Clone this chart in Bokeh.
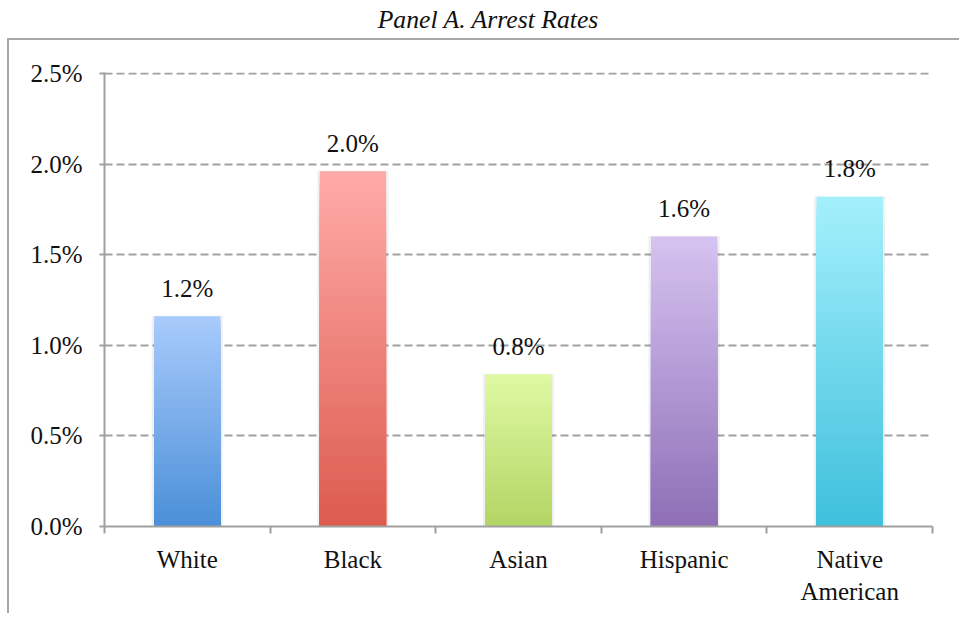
from bokeh.plotting import figure
from bokeh.models import ColumnDataSource, FixedTicker, NumeralTickFormatter, Div, Range1d
from bokeh.layouts import column
from bokeh.embed import file_html
from bokeh.resources import INLINE
from bokeh.core.properties import value

# ---- data ----
categories = ["White", "Black", "Asian", "Hispanic", "Native\nAmerican"]
arrest_rates = [0.0116, 0.0196, 0.0084, 0.0160, 0.0182]
bar_labels = ["1.2%", "2.0%", "0.8%", "1.6%", "1.8%"]
y_ticks = [0.0, 0.005, 0.010, 0.015, 0.020, 0.025]
top_colors = ["#A9CBFC", "#FFABA8", "#DFF9A3", "#D6C3F0", "#A4F0FC"]
bottom_colors = ["#4A8FD8", "#DC5B4E", "#B3D564", "#8E6FB7", "#3EC0DC"]

FONT = "Liberation Serif"
GREY = "#a0a0a0"
BAR_W = 0.4
N_STEPS = 60

centers = [i + 0.5 for i in range(len(categories))]


def hex2rgb(h):
    return [int(h[i:i + 2], 16) for i in (1, 3, 5)]


# gradient bars: stacked slices, tallest (top colour) drawn first
g = dict(left=[], right=[], top=[], bottom=[], color=[])
sh = dict(left=[], right=[], top=[], bottom=[])
for c, v, tc, bc in zip(centers, arrest_rates, top_colors, bottom_colors):
    t, b = hex2rgb(tc), hex2rgb(bc)
    for k in range(N_STEPS, 0, -1):
        f = (k - 0.5) / N_STEPS
        rgb = tuple(round(b[j] + (t[j] - b[j]) * f) for j in range(3))
        g["left"].append(c - BAR_W / 2)
        g["right"].append(c + BAR_W / 2)
        g["top"].append(v * k / N_STEPS)
        g["bottom"].append(0)
        g["color"].append("#%02x%02x%02x" % rgb)
    sh["left"].append(c - BAR_W / 2 - 0.015)
    sh["right"].append(c + BAR_W / 2 + 0.015)
    sh["top"].append(v + 0.00003)
    sh["bottom"].append(0)

p = figure(width=956, height=575, output_backend="svg", toolbar_location=None,
           x_range=Range1d(0, 5), y_range=Range1d(0, 0.025055),
           min_border_left=95, min_border_right=33, min_border_top=32, min_border_bottom=89)
p.styles = {"border-top": "2px solid #a6a6a6", "border-left": "2px solid #a6a6a6",
            "margin-left": "7px"}
p.outline_line_color = None
p.background_fill_color = "white"
p.border_fill_color = "white"

# shadow
p.quad(left="left", right="right", top="top", bottom="bottom", source=ColumnDataSource(sh),
       fill_color="#000000", fill_alpha=0.06, line_color=None)
p.quad(left="left", right="right", top="top", bottom="bottom", source=ColumnDataSource(g),
       fill_color="color", line_color=None)

p.text(x=centers, y=arrest_rates, text=bar_labels, text_align="center",
       text_baseline="alphabetic", y_offset=-28, text_font=value(FONT),
       text_font_size="25px", text_color="#111111")

# grid
p.xgrid.visible = False
p.ygrid.ticker = FixedTicker(ticks=y_ticks)
p.ygrid.grid_line_color = GREY
p.ygrid.grid_line_width = 2
p.ygrid.grid_line_dash = "8 4"

# y axis
p.yaxis.ticker = FixedTicker(ticks=y_ticks)
p.yaxis.formatter = NumeralTickFormatter(format="0.0%")
p.yaxis.axis_line_color = GREY
p.yaxis.axis_line_width = 2
p.yaxis.major_tick_line_color = GREY
p.yaxis.major_tick_line_width = 2
p.yaxis.major_tick_out = 5
p.yaxis.major_tick_in = 0
p.yaxis.minor_tick_line_color = None
p.yaxis.major_label_standoff = 17
p.yaxis.major_label_text_font = FONT
p.yaxis.major_label_text_font_size = "25px"
p.yaxis.major_label_text_color = "#111111"

# x axis: labels at centres, ticks at category boundaries
p.xaxis.ticker = FixedTicker(ticks=centers, minor_ticks=list(range(len(categories) + 1)))
p.xaxis.major_label_overrides = {c: lab for c, lab in zip(centers, categories)}
p.xaxis.axis_line_color = GREY
p.xaxis.axis_line_width = 2
p.xaxis.major_tick_out = 0
p.xaxis.major_tick_in = 0
p.xaxis.minor_tick_out = 7
p.xaxis.minor_tick_in = 0
p.xaxis.minor_tick_line_color = GREY
p.xaxis.minor_tick_line_width = 2
p.xaxis.major_label_standoff = 12
p.xaxis.major_label_text_font = FONT
p.xaxis.major_label_text_font_size = "25px"
p.xaxis.major_label_text_color = "#111111"

title = Div(text=('<div style="width:943px;padding-left:23px;box-sizing:border-box;'
                  'text-align:center;font-family:\'Liberation Serif\';font-style:italic;'
                  'font-size:25.7px;line-height:30px;color:#111;margin-top:0px;">'
                  'Panel A. Arrest Rates</div>'),
            width=950, height=28)

layout = column(title, p, spacing=0)
open("out.html", "w").write(file_html(layout, INLINE))
